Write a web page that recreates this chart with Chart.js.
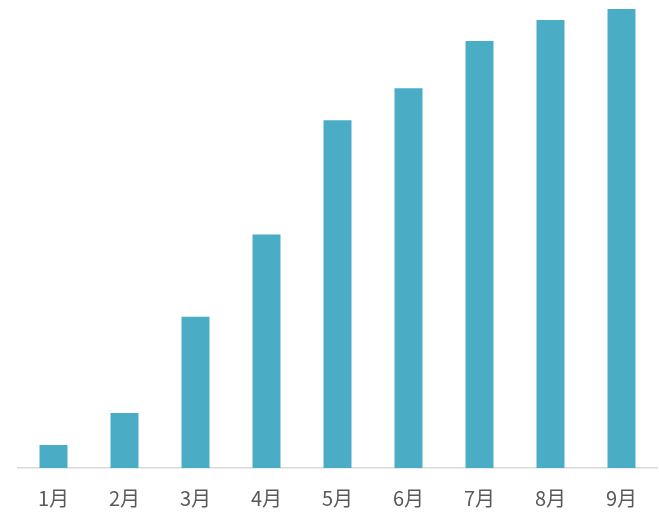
<!DOCTYPE html>
<html>
<head>
<meta charset="utf-8">
<script src="https://cdn.jsdelivr.net/npm/chart.js@4"></script>
<style>
  html, body { margin: 0; padding: 0; background: #fff; }
  #wrap { width: 659px; height: 512px; }
</style>
</head>
<body>
<div id="wrap"><canvas id="c" width="659" height="512"></canvas></div>
<script>
// ── Data ──────────────────────────────────────────────────
const months = ['1月', '2月', '3月', '4月', '5月', '6月', '7月', '8月', '9月'];
const values = [23, 55, 151, 233, 347, 379, 426, 447, 458];
const yMax   = 467;

const barColor  = '#4BACC6';
const axisColor = '#D9D9D9';
const textColor = '#595959';

// ── Chart ─────────────────────────────────────────────────
new Chart(document.getElementById('c').getContext('2d'), {
  type: 'bar',
  data: {
    labels: months,
    datasets: [{
      data: values,
      backgroundColor: barColor,
      borderWidth: 0,
      barPercentage: 0.394,
      categoryPercentage: 1,
    }]
  },
  options: {
    responsive: false,
    animation: false,
    layout: { padding: { left: 18, right: 2, top: 0, bottom: -16 } },
    plugins: { legend: { display: false }, tooltip: { enabled: false } },
    scales: {
      x: {
        grid: { display: false, drawTicks: false },
        border: { display: true, color: axisColor, width: 1.5 },
        ticks: {
          color: textColor,
          padding: 18,
          font: { family: '"Noto Sans CJK SC", "Noto Sans", sans-serif', size: 20 },
          maxRotation: 0,
        }
      },
      y: {
        display: false,
        min: 0,
        max: yMax,
      }
    }
  }
});
</script>
</body>
</html>
